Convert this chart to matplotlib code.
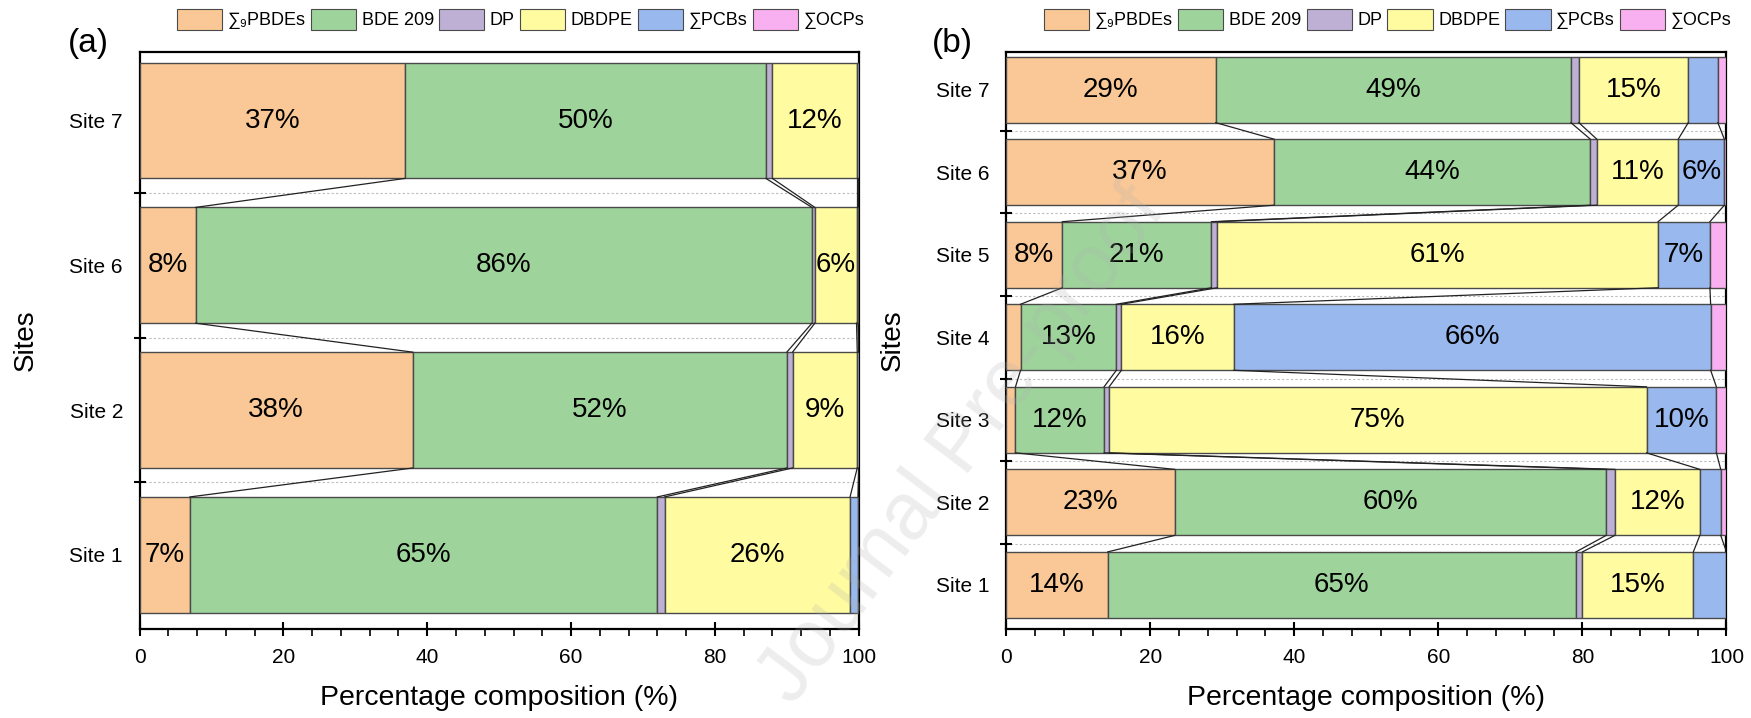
import numpy as np
import matplotlib
matplotlib.use('Agg')
import matplotlib.pyplot as plt
from matplotlib.patches import Patch
from matplotlib.ticker import MultipleLocator

plt.rcParams['font.family'] = ['Liberation Sans', 'DejaVu Sans']

groups = ['∑₉PBDEs', 'BDE 209', 'DP', 'DBDPE', '∑PCBs', '∑OCPs']
colors = ['#FAC896', '#9ED49B', '#BEB0D4', '#FFFBA0', '#98B8EE', '#F9B0F0']

# panel (a)
sites_a = ['Site 1', 'Site 2', 'Site 6', 'Site 7']
a_pbde = [7.0, 38.0, 7.8, 36.9]
a_bde209 = [65.0, 52.0, 85.7, 50.2]
a_dp = [1.0, 0.8, 0.4, 0.9]
a_dbdpe = [25.8, 9.0, 5.8, 11.7]
a_pcb = [1.1, 0.2, 0.2, 0.3]
a_ocp = [0.1, 0.0, 0.1, 0.0]

# panel (b)
sites_b = ['Site 1', 'Site 2', 'Site 3', 'Site 4', 'Site 5', 'Site 6', 'Site 7']
b_pbde = [14.1, 23.4, 1.3, 2.0, 7.8, 37.2, 29.1]
b_bde209 = [65.0, 59.9, 12.3, 13.3, 20.7, 43.9, 49.3]
b_dp = [0.9, 1.2, 0.7, 0.7, 0.8, 0.9, 1.1]
b_dbdpe = [15.4, 11.8, 74.6, 15.6, 61.2, 11.3, 15.2]
b_pcb = [4.6, 2.9, 9.7, 66.2, 7.2, 6.4, 4.1]
b_ocp = [0.0, 0.8, 1.4, 2.2, 2.3, 0.3, 1.2]


def stacked(ax, sites, series, ylim, bh=0.8):
    data = np.array(series)  # groups x sites
    y = np.arange(len(sites))
    left = np.zeros(len(sites))
    for k, vals in enumerate(data):
        ax.barh(y, vals, left=left, height=bh, color=colors[k],
                edgecolor='#4a4a4a', linewidth=1.0, zorder=3)
        for yi, (l, v) in enumerate(zip(left, vals)):
            if v >= 5:
                ax.text(l + v / 2, yi, f'{v:.0f}%', ha='center', va='center',
                        fontsize=20, zorder=5)
        left = left + vals

    # connecting lines between neighbouring bars
    cum = np.cumsum(data, axis=0)
    for i in range(len(sites) - 1):
        for k in range(len(data) - 1):
            ax.plot([cum[k, i], cum[k, i + 1]], [i + bh / 2, i + 1 - bh / 2],
                    color='#222222', lw=0.9, zorder=4)
        ax.axhline(i + 0.5, color='#bbbbbb', lw=0.8, ls=(0, (2, 2)), zorder=1)

    ax.set_xlim(0, 100)
    ax.set_ylim(*ylim)
    ax.set_yticks(y)
    ax.set_yticklabels(sites, fontsize=15)
    ax.set_yticks(y[:-1] + 0.5, minor=True)
    ax.tick_params(axis='y', which='major', length=0, pad=12)
    ax.tick_params(axis='y', which='minor', direction='inout', length=9, width=1.5)
    ax.xaxis.set_major_locator(MultipleLocator(20))
    ax.xaxis.set_minor_locator(MultipleLocator(4))
    ax.tick_params(axis='x', which='major', direction='inout', length=10,
                   width=1.5, labelsize=15, pad=9)
    ax.tick_params(axis='x', which='minor', direction='out', length=5, width=1.2)
    for s in ax.spines.values():
        s.set_linewidth(1.6)
    ax.set_xlabel('Percentage composition (%)', fontsize=20.5, labelpad=13)
    ax.set_ylabel('Sites', fontsize=20, labelpad=22)

    handles = [Patch(facecolor=c, edgecolor='#4a4a4a', lw=0.8) for c in colors]
    ax.legend(handles, groups, loc='lower center', bbox_to_anchor=(0.53, 1.02),
              ncol=6, frameon=False, fontsize=13, handlelength=2.5,
              handleheight=1.45, handletextpad=0.3, columnspacing=0.3,
              borderaxespad=0.2)


fig = plt.figure(figsize=(17.51, 7.18), dpi=100)
ax_a = fig.add_axes([0.0797, 0.1244, 0.4107, 0.8025])
ax_b = fig.add_axes([0.5746, 0.1244, 0.4114, 0.8025])

stacked(ax_a, sites_a, [a_pbde, a_bde209, a_dp, a_dbdpe, a_pcb, a_ocp],
        (-0.51, 3.47))
stacked(ax_b, sites_b, [b_pbde, b_bde209, b_dp, b_dbdpe, b_pcb, b_ocp],
        (-0.53, 6.45))

fig.text(0.039, 0.94, '(a)', fontsize=24, ha='left', va='center')
fig.text(0.532, 0.94, '(b)', fontsize=24, ha='left', va='center')

fig.text(0.55, 0.38, 'Journal Pre-proof', fontsize=58, rotation=53,
         ha='center', va='center', color='#b0b0b0', alpha=0.22, zorder=10)

fig.savefig('out.png', dpi=100)
